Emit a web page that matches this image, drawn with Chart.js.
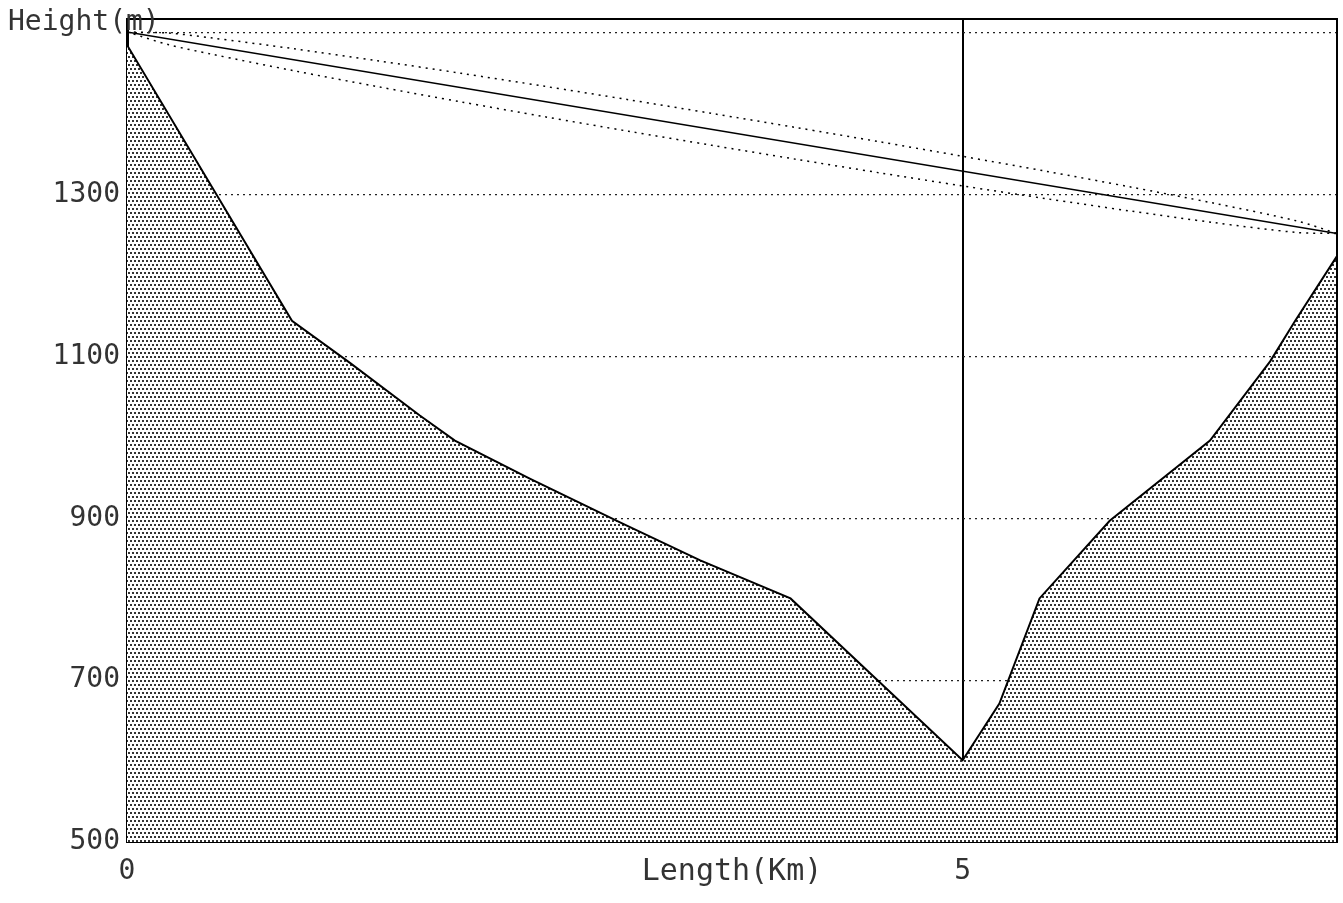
<!DOCTYPE html>
<html>
<head>
<meta charset="utf-8">
<script src="https://cdn.jsdelivr.net/npm/chart.js@4.4.1/dist/chart.umd.min.js"></script>
<style>
  html, body { margin: 0; padding: 0; background: #fff; }
  #c { display: block; }
</style>
</head>
<body>
<canvas id="c" width="1343" height="903"></canvas>
<script>
// ---- data ----
const distKm   = [0, 0.987, 1.334, 1.752, 1.962, 2.41, 2.95, 3.43, 3.97, 5.0, 5.22, 5.46, 5.88, 6.48, 6.84, 6.99, 7.24];
const terrainM = [1485, 1144, 1092, 1027, 996, 949, 895, 848, 801, 601, 671, 801, 897, 996, 1094, 1144, 1224];

const losKm = [0, 7.24];
const losM  = [1501, 1252];

const fresnelKm    = [0, 0.25, 0.5, 1.0, 1.5, 2.0, 2.5, 3.0, 3.5, 4.0, 4.5, 5.0, 5.5, 6.0, 6.5, 7.0, 7.24];
const fresnelUpper = [1501, 1499.6, 1493.8, 1480.2, 1465.4, 1449.9, 1433.8, 1417.3, 1400.3, 1383.0, 1365.4, 1347.3, 1328.8, 1309.6, 1289.5, 1267.4, 1252];
const fresnelLower = [1501, 1485.2, 1473.8, 1453.0, 1433.4, 1414.5, 1396.2, 1378.3, 1360.9, 1343.8, 1327.0, 1310.7, 1295.0, 1279.8, 1265.5, 1253.2, 1252];

const yTicks = [500, 700, 900, 1100, 1300, 1500];
const xTicks = [0, 5];
const markerKm = 5;
const yLabel = 'Height(m)';
const xLabel = 'Length(Km)';

const pts = (xs, ys) => xs.map((x, i) => ({ x: x, y: ys[i] }));

// stipple pattern for terrain
function makePattern() {
  const p = document.createElement('canvas');
  p.width = 4; p.height = 8;
  const g = p.getContext('2d');
  g.fillStyle = '#ffffff';
  g.fillRect(0, 0, 4, 8);
  g.fillStyle = '#333333';
  g.fillRect(0, 0, 2, 2);
  g.fillRect(2, 4, 2, 2);
  return g.createPattern(p, 'repeat');
}

const FONT = 'DejaVu Sans Mono';

const framePlugin = {
  id: 'frame',
  afterDraw(chart) {
    const { ctx, chartArea: a } = chart;
    ctx.save();
    ctx.strokeStyle = '#000';
    ctx.lineWidth = 2;
    ctx.beginPath();
    ctx.moveTo(a.left, a.top);
    ctx.lineTo(a.right, a.top);
    ctx.lineTo(a.right, a.bottom);
    ctx.stroke();
    ctx.fillStyle = '#333';
    ctx.font = '28px "' + FONT + '"';
    ctx.textBaseline = 'alphabetic';
    ctx.textAlign = 'left';
    ctx.fillText(yLabel, 8, 30);
    ctx.restore();
  }
};

new Chart(document.getElementById('c'), {
  type: 'line',
  data: {
    datasets: [
      {
        data: pts(distKm, terrainM),
        borderColor: '#000',
        borderWidth: 2,
        backgroundColor: makePattern(),
        fill: 'start',
        pointRadius: 0,
        tension: 0,
        order: 3
      },
      {
        data: pts(losKm, losM),
        borderColor: '#000',
        borderWidth: 1.5,
        fill: false,
        pointRadius: 0,
        tension: 0,
        order: 2
      },
      {
        data: pts(fresnelKm, fresnelUpper),
        borderColor: '#000',
        borderWidth: 1.5,
        borderDash: [2, 5],
        fill: false,
        pointRadius: 0,
        tension: 0.3,
        order: 1
      },
      {
        data: pts(fresnelKm, fresnelLower),
        borderColor: '#000',
        borderWidth: 1.5,
        borderDash: [2, 5],
        fill: false,
        pointRadius: 0,
        tension: 0.3,
        order: 1
      }
    ]
  },
  options: {
    responsive: false,
    devicePixelRatio: 1,
    animation: false,
    layout: { padding: { top: 19, right: 6, left: 0, bottom: 0 } },
    plugins: { legend: { display: false }, tooltip: { enabled: false } },
    scales: {
      x: {
        type: 'linear',
        min: 0,
        max: 7.24,
        z: 1,
        afterFit(scale) { scale.height = 61; scale.paddingLeft = 0; scale.paddingRight = 0; },
        afterBuildTicks(scale) { scale.ticks = xTicks.map(v => ({ value: v })); },
        ticks: {
          font: { family: FONT, size: 28 },
          color: '#333',
          padding: 13,
          maxRotation: 0,
          autoSkip: false,
          callback: v => String(v)
        },
        grid: {
          drawTicks: false,
          color: ctx => (ctx.tick && ctx.tick.value === markerKm) ? '#000' : 'rgba(0,0,0,0)',
          lineWidth: 2
        },
        border: { display: true, color: '#000', width: 2 },
        title: {
          display: true,
          text: xLabel,
          font: { family: FONT, size: 30 },
          color: '#333',
          padding: { top: 0, bottom: 13 }
        }
      },
      y: {
        type: 'linear',
        min: 500,
        max: 1517,
        z: 1,
        afterFit(scale) { scale.width = 127; scale.paddingTop = 0; scale.paddingBottom = 0; },
        afterBuildTicks(scale) { scale.ticks = yTicks.map(v => ({ value: v })); },
        ticks: {
          font: { family: FONT, size: 28 },
          color: '#333',
          padding: 7,
          autoSkip: false,
          callback: v => (v === 1500 ? '' : String(v))
        },
        grid: {
          drawTicks: false,
          color: ctx => (ctx.tick && ctx.tick.value === 500) ? 'rgba(0,0,0,0)' : '#222',
          lineWidth: 1.2
        },
        border: { display: true, color: '#000', width: 3, dash: [2, 4] }
      }
    }
  },
  plugins: [framePlugin]
});
</script>
</body>
</html>
